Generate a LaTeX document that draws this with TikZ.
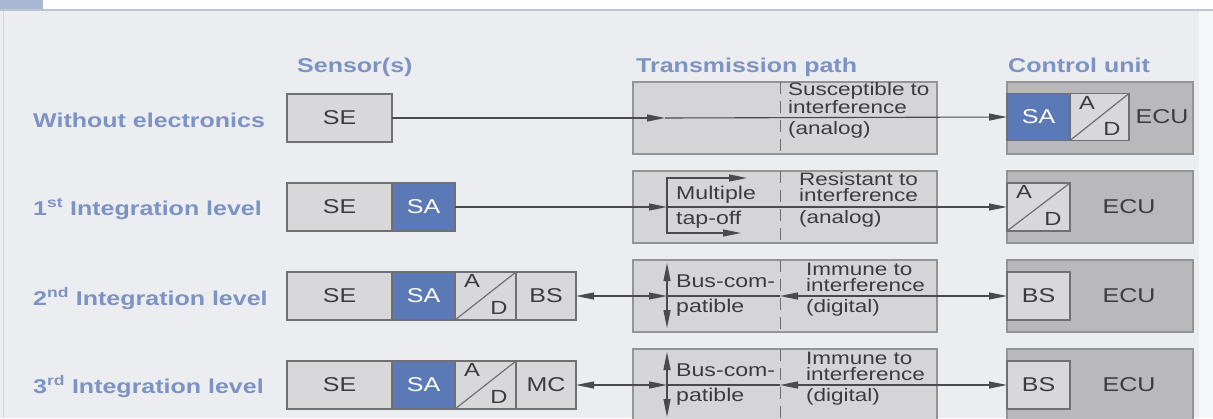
\documentclass[tikz,border=0pt]{standalone}
\usepackage{fontspec}
\usepackage{xcolor}
\newfontfamily\diagfont[FakeStretch=1.25]{Liberation Sans}
\usetikzlibrary{arrows.meta,calc,positioning}
\definecolor{PageGray}{HTML}{ECEDF1}
\definecolor{HeadBlue}{HTML}{A9B8D3}
\definecolor{RuleBlue}{HTML}{BAC4D6}
\definecolor{LabelBlue}{HTML}{7C93C4}
\definecolor{CellGray}{HTML}{D8D8DA}
\definecolor{CellLine}{HTML}{707074}
\definecolor{SABlue}{HTML}{5A79B6}
\definecolor{PathGray}{HTML}{D5D5D7}
\definecolor{UnitGray}{HTML}{B9B9BC}
\definecolor{LineGray}{HTML}{4A4A4E}
\definecolor{InkGray}{HTML}{3C3C3E}
\tikzset{
  cell/.style={draw=CellLine,fill=CellGray,text=InkGray,line width=1.2pt,
    inner sep=0pt,outer sep=0pt,minimum height=48pt,
    font=\diagfont\fontsize{20}{24}\selectfont},
  secell/.style={cell,minimum width=105pt},
  sacell/.style={cell,fill=SABlue,text=white,minimum width=63pt},
  adcell/.style={cell,minimum width=61pt},
  adletter/.style={inner sep=0pt,text=InkGray,
    font=\diagfont\fontsize{19}{19}\selectfont},
  buscell/.style={cell,minimum width=60pt},
  pathbox/.style={draw=CellLine!75,fill=PathGray,line width=1.2pt,
    inner sep=0pt,outer sep=0pt,minimum width=304pt,minimum height=72pt},
  unitbox/.style={pathbox,fill=UnitGray,minimum width=186pt},
  unittext/.style={text=InkGray,font=\diagfont\fontsize{20}{24}\selectfont},
  pathnote/.style={anchor=west,align=left,inner sep=0pt,text=InkGray,
    font=\diagfont\fontsize{18}{16}\selectfont},
  tapnote/.style={pathnote,font=\diagfont\fontsize{18.5}{25}\selectfont},
  rowlabel/.style={anchor=base west,inner sep=0pt,text=LabelBlue,
    font=\diagfont\bfseries\fontsize{20}{24}\selectfont},
  colhead/.style={rowlabel},
  sig/.style={draw=LineGray,line width=1.1pt},
  divider/.style={draw=LineGray!80,line width=1pt,dash pattern=on 12pt off 7pt}
}
% diagonal and letters of an A/D cell
\newcommand\adsplit[1]{%
  \draw[CellLine,line width=1.2pt] (#1.south west) -- (#1.north east);
  \node[adletter] (#1A) at ([xshift=17pt,yshift=-9pt]#1.north west) {A};
  \node[adletter] (#1D) at ([xshift=-17pt,yshift=12pt]#1.south east) {D};}
\begin{document}
\begin{tikzpicture}[x=1pt,y=-1pt,>={Triangle[length=18pt,width=7pt]}]
  \useasboundingbox (0,0) rectangle (1213,418);
  \clip (0,0) rectangle (1213,418);

  % page and header strip
  \fill[PageGray] (0,0) rectangle (1213,418);
  \fill[white!55!PageGray] (1199,11) rectangle (1213,418);
  \fill[white] (0,0) rectangle (1213,9);
  \fill[HeadBlue] (0,0) rectangle (43,9);
  \draw[RuleBlue,line width=2pt] (0,10) -- (1213,10);
  \draw[RuleBlue!70,line width=1pt] (3,11) -- (3,418);

  % column heads
  \node[colhead] (hsens) at (297,72) {Sensor(s)};
  \node[colhead] (hpath) at (636,72) {Transmission path};
  \node[colhead] (hunit) at (1008,72) {Control unit};

  % row labels
  \node[rowlabel] (l1) at (33,127) {Without electronics};
  \node[rowlabel] (l2) at (33,215) {1\textsuperscript{st} Integration level};
  \node[rowlabel] (l3) at (33,305) {2\textsuperscript{nd} Integration level};
  \node[rowlabel] (l4) at (33,393) {3\textsuperscript{rd} Integration level};

  % sensors
  \node[secell,anchor=west] (se1) at (287,118) {SE};

  \node[secell,anchor=west] (se2) at (287,207) {SE};
  \node[sacell,right=0pt of se2] (sa2) {SA};

  \node[secell,anchor=west] (se3) at (287,296) {SE};
  \node[sacell,right=0pt of se3] (sa3) {SA};
  \node[adcell,right=0pt of sa3] (ad3) {};
  \node[buscell,right=0pt of ad3] (bs3) {BS};
  \adsplit{ad3}

  \node[secell,anchor=west] (se4) at (287,385) {SE};
  \node[sacell,right=0pt of se4] (sa4) {SA};
  \node[adcell,right=0pt of sa4] (ad4) {};
  \node[buscell,right=0pt of ad4] (mc4) {MC};
  \adsplit{ad4}

  % transmission paths
  \foreach \row/\yc in {1/118,2/207,3/296,4/385}{
    \node[pathbox,anchor=west] (p\row) at (633,\yc) {};
    \draw[divider] ([xshift=-5pt]p\row.north) -- ([xshift=-5pt]p\row.south);
  }
  \node[pathnote] (n1) at (788,98) {Susceptible to\\interference};
  \node[pathnote] (a1) at (788,130) {(analog)};
  \node[pathnote] (n2) at (799,187) {Resistant to\\interference};
  \node[pathnote] (a2) at (799,219) {(analog)};
  \node[pathnote] (n3) at (806,277) {Immune to\\interference};
  \node[pathnote] (a3) at (806,308) {(digital)};
  \node[pathnote] (n4) at (806,366) {Immune to\\interference};
  \node[pathnote] (a4) at (806,397) {(digital)};

  \node[tapnote] (tap) at (676,207) {Multiple\\tap-off};
  \node[tapnote] (bus3t) at (676,296) {Bus-com-\\patible};
  \node[tapnote] (bus4t) at (676,385) {Bus-com-\\patible};

  % control units
  \foreach \row/\yc in {1/118,2/207,3/296,4/385}{
    \node[unitbox,anchor=west] (u\row) at (1007,\yc) {};
  }
  \node[sacell,minimum height=47pt,anchor=west] (csa1) at (1007,117) {SA};
  \node[adcell,minimum height=47pt,minimum width=59pt,right=0pt of csa1] (cad1) {};
  \adsplit{cad1}
  \node[unittext] (ecu1) at (1162,117) {ECU};

  \node[adcell,minimum width=63pt,anchor=west] (cad2) at (1007,207) {};
  \adsplit{cad2}
  \node[unittext] (ecu2) at (1129,207) {ECU};

  \node[buscell,minimum width=63pt,anchor=west] (cbs3) at (1007,296) {BS};
  \node[unittext] (ecu3) at (1129,296) {ECU};

  \node[buscell,minimum width=63pt,anchor=west] (cbs4) at (1007,385) {BS};
  \node[unittext] (ecu4) at (1129,385) {ECU};

  % signal lines
  \coordinate (m1) at (665,118);
  \draw[sig,->] (se1.east) -- (m1);
  \draw[sig,->] (m1) -- (csa1.west);

  \coordinate (tap2) at (667,207);
  \coordinate (tapT) at (747,178);
  \coordinate (tapB) at (741,233);
  \draw[sig,->] (sa2.east) -- (tap2);
  \draw[sig,->] (tap2) -- (cad2.west);
  \draw[sig,->] (tap2) |- (tapT);
  \draw[sig,->] (tap2) |- (tapB);

  \foreach \row/\yc/\sens in {3/296/bs3,4/385/mc4}{
    \coordinate (bus\row) at (667,\yc);
    \coordinate (busT\row) at (667,\yc-33);
    \coordinate (busB\row) at (667,\yc+32);
    \coordinate (dv\row) at (780,\yc);
    \draw[sig,<->] (\sens.east) -- (bus\row);
    \draw[sig,<->] (busT\row) -- (busB\row);
    \draw[sig] (bus\row) -- (dv\row);
    \draw[sig,<->] (dv\row) -- (cbs\row.west);
  }
\end{tikzpicture}
\end{document}
